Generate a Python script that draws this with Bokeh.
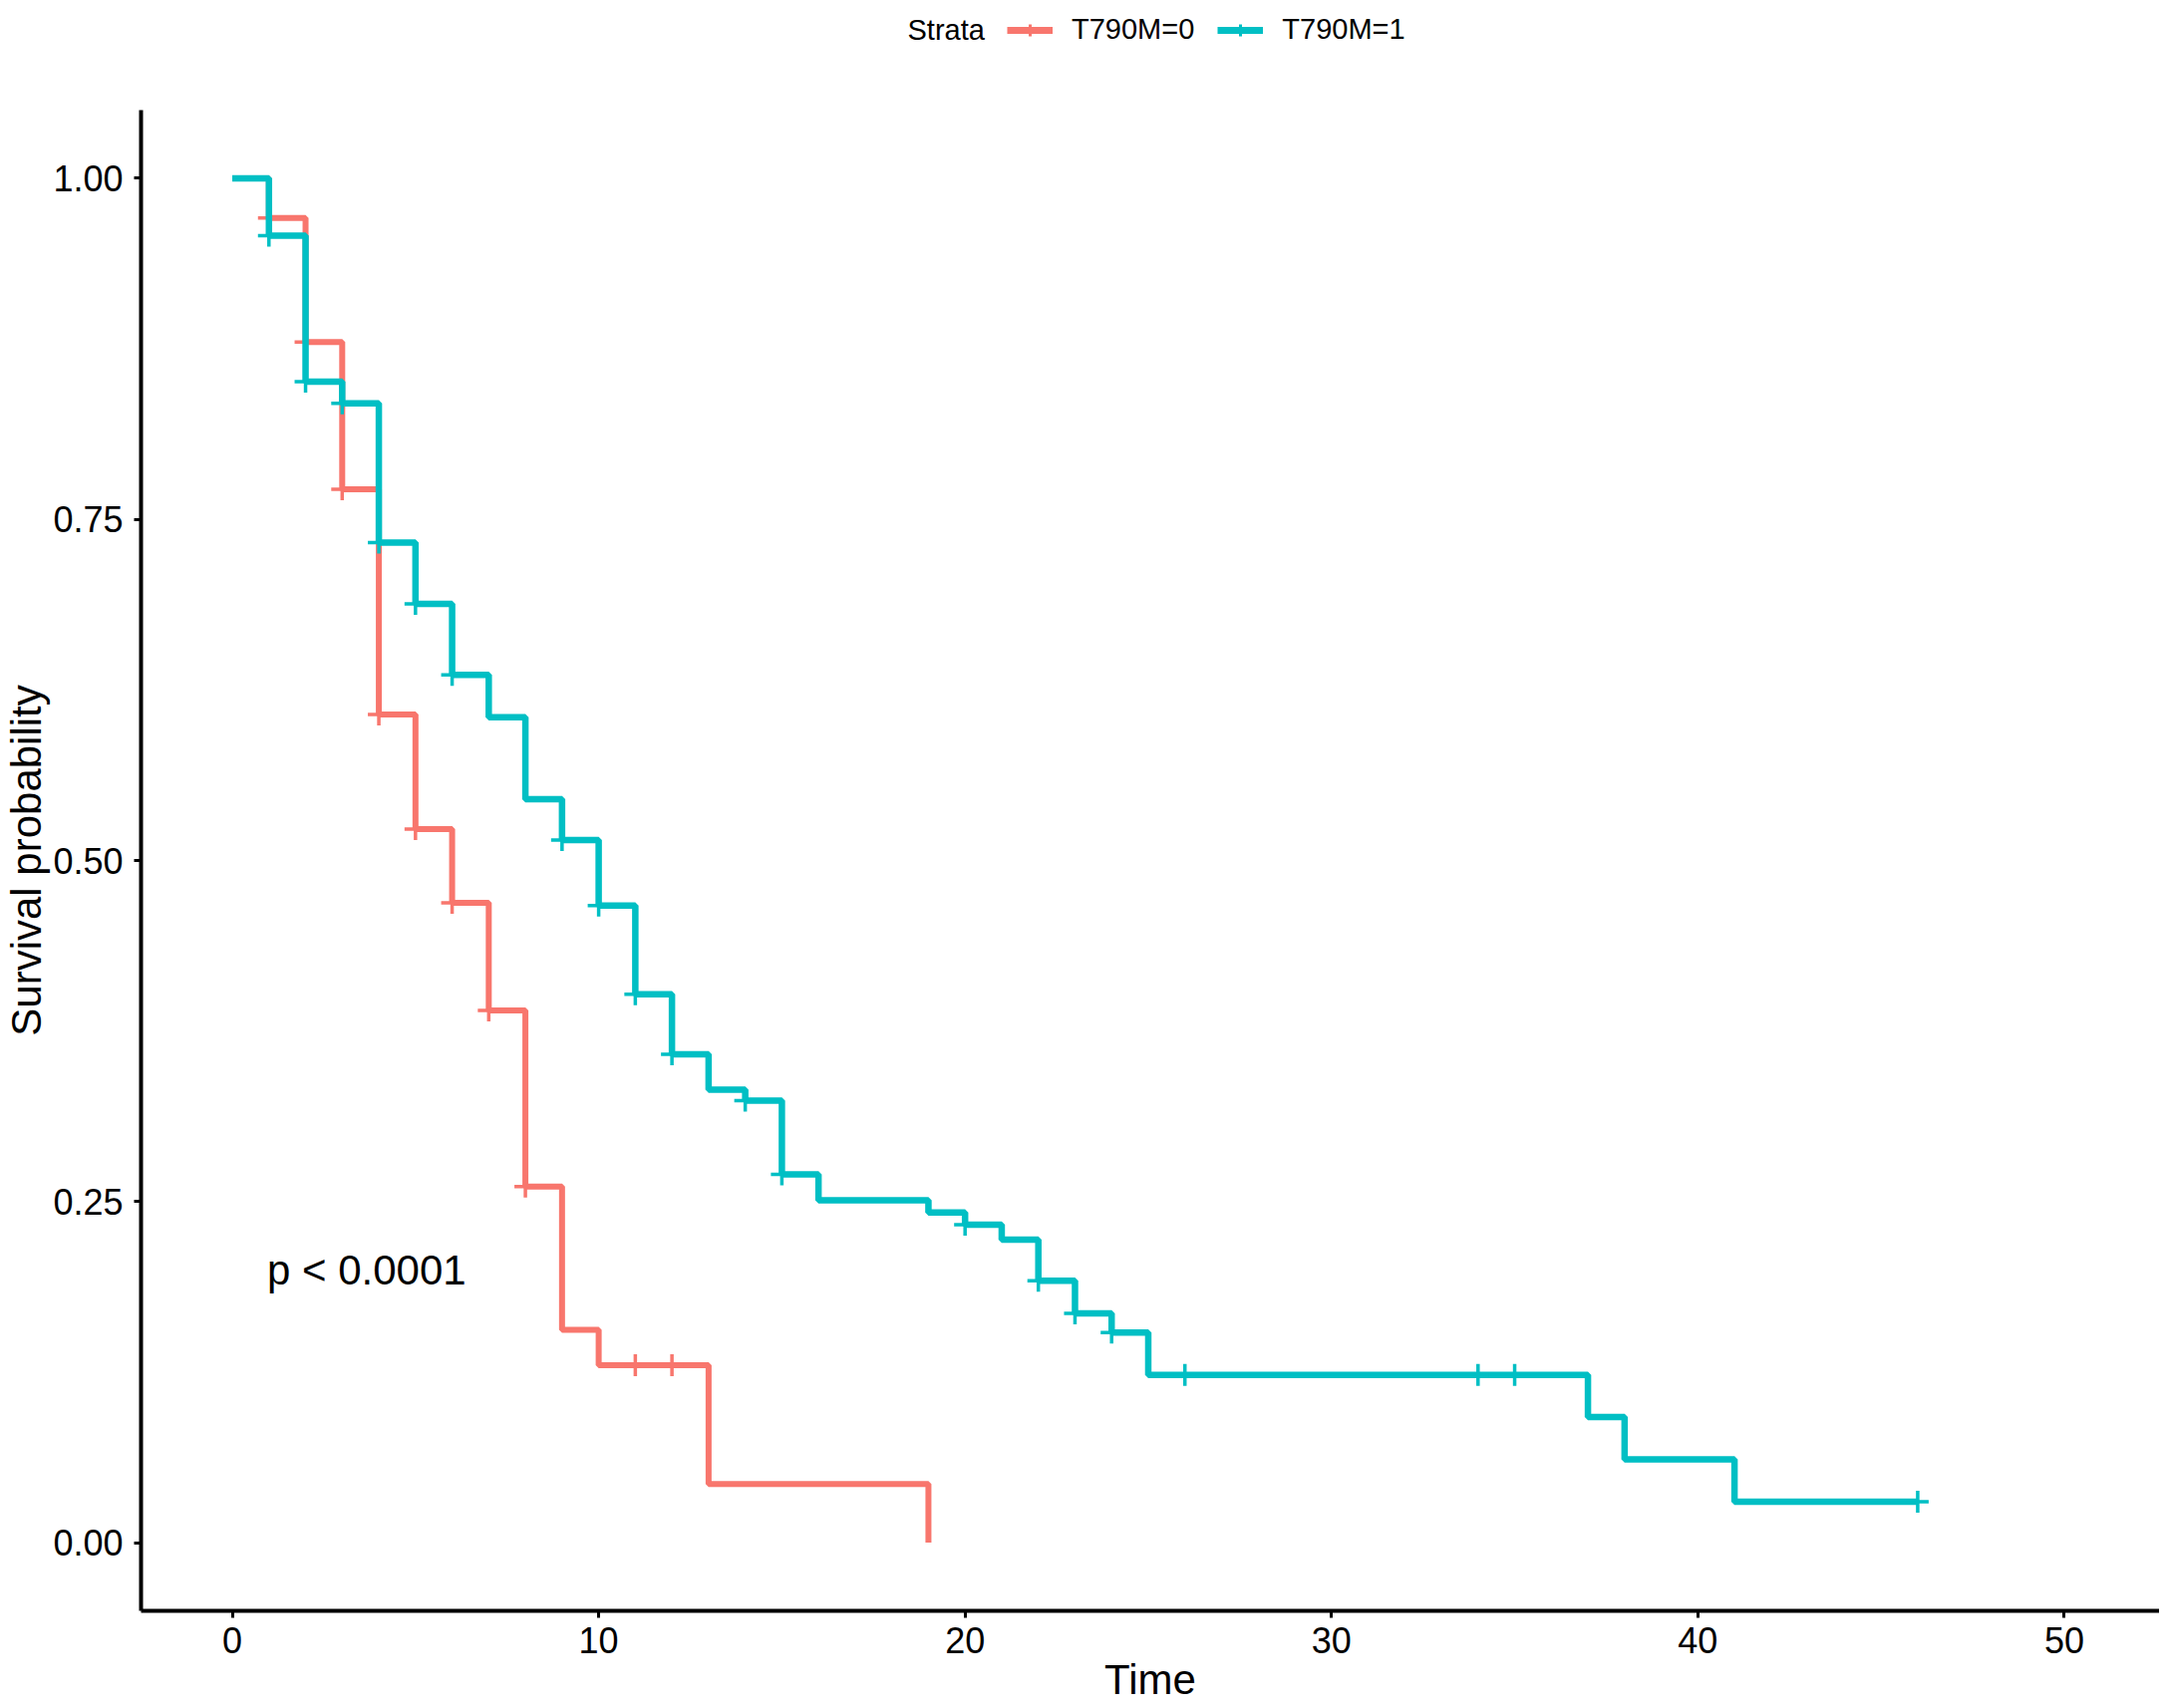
import numpy as np
from bokeh.plotting import figure
from bokeh.layouts import column
from bokeh.models import Range1d, Legend, LegendItem, FixedTicker, Label
from bokeh.core.properties import value
from bokeh.embed import file_html
from bokeh.resources import INLINE

FONT = "Liberation Sans"
RED = "#F8766D"
TEAL = "#00BFC4"

# ---- data ----
strata = ["T790M=0", "T790M=1"]
legend_title = "Strata"

time0 = [0, 1, 2, 3, 4, 5, 6, 7, 8, 9, 10, 13, 19]
surv0 = [1.0, 0.971, 0.880, 0.772, 0.607, 0.523, 0.469, 0.390, 0.261, 0.156, 0.130, 0.043, 0.0]
cens_time0 = [1, 2, 3, 4, 5, 6, 7, 8, 11, 12]

time1 = [0, 1, 2, 3, 4, 5, 6, 7, 8, 9, 10, 11, 12, 13, 14, 15, 16, 19, 20, 21, 22, 23, 24, 25, 37, 38, 41, 46]
surv1 = [1.0, 0.958, 0.851, 0.835, 0.733, 0.688, 0.636, 0.605, 0.545, 0.515, 0.467, 0.402, 0.358, 0.332,
         0.324, 0.270, 0.251, 0.242, 0.233, 0.222, 0.192, 0.168, 0.154, 0.123, 0.092, 0.061, 0.030, 0.030]
cens_time1 = [1, 2, 3, 4, 5, 6, 9, 10, 11, 12, 14, 15, 20, 22, 23, 24, 26, 34, 35, 46]

x_ticks = [0, 10, 20, 30, 40, 50]
y_ticks = [0.0, 0.25, 0.50, 0.75, 1.00]
y_tick_labels = ["0.00", "0.25", "0.50", "0.75", "1.00"]
pval_text = "p < 0.0001"
pval_pos = (0.95, 0.2)
x_title = "Time"
y_title = "Survival probability"


def step_value(times, survs, t):
    idx = np.searchsorted(np.asarray(times), t, side="right") - 1
    return float(np.asarray(survs)[idx])


cens_surv0 = [step_value(time0, surv0, t) for t in cens_time0]
cens_surv1 = [step_value(time1, surv1, t) for t in cens_time1]

W = 2166
TOP_H = 100
MAIN_H = 1611

# ---- legend strip on top (its renderers hold the same data, kept out of view) ----
top = figure(width=W, height=TOP_H, output_backend="svg", toolbar_location=None,
             x_range=Range1d(-1000, -999), y_range=Range1d(-1000, -999),
             x_axis_location=None, y_axis_location=None,
             min_border_left=0, min_border_right=0, min_border_top=0, min_border_bottom=0)
top.title.visible = False
top.xgrid.visible = False
top.ygrid.visible = False
top.outline_line_color = None
top.border_fill_color = "white"

k0l = top.step(time0, surv0, mode="after", line_color=RED, line_width=7)
k0c = top.scatter(cens_time0, cens_surv0, marker="cross", size=18, line_color=RED, line_width=3)
k1l = top.step(time1, surv1, mode="after", line_color=TEAL, line_width=7)
k1c = top.scatter(cens_time1, cens_surv1, marker="cross", size=18, line_color=TEAL, line_width=3)

legend = Legend(items=[LegendItem(label=strata[0], renderers=[k0l, k0c]),
                       LegendItem(label=strata[1], renderers=[k1l, k1c])],
                orientation="horizontal", location=(869, 54),
                glyph_width=46, glyph_height=30, label_standoff=19, spacing=23,
                padding=0, margin=0, label_text_font=FONT, label_text_font_size="29px",
                label_text_color="black", border_line_color=None, background_fill_alpha=0)
top.add_layout(legend, "center")
top.add_layout(Label(x=769, y=71, x_units="screen", y_units="screen", text=legend_title,
                     text_font=FONT, text_font_size="29px", text_baseline="middle",
                     text_color="black"))

# ---- main plot ----
p = figure(width=W, height=MAIN_H, output_backend="svg", toolbar_location=None,
           x_range=Range1d(-2.49, 52.6), y_range=Range1d(-0.05, 1.05),
           min_border_left=131, min_border_top=10, min_border_right=0, min_border_bottom=90)
p.title.visible = False
p.xgrid.visible = False
p.ygrid.visible = False
p.outline_line_color = None
p.background_fill_color = "white"
p.border_fill_color = "white"

p.step(time0, surv0, mode="after", line_color=RED, line_width=6)
p.scatter(cens_time0, cens_surv0, marker="cross", size=22, line_color=RED, line_width=3.5)
p.step(time1, surv1, mode="after", line_color=TEAL, line_width=6.5)
p.scatter(cens_time1, cens_surv1, marker="cross", size=22, line_color=TEAL, line_width=3.5)

p.text(x=[pval_pos[0]], y=[pval_pos[1]], text=[pval_text], text_font=value(FONT),
       text_font_size="42px", text_baseline="middle", text_align="left", text_color="black")

for ax in (p.xaxis[0], p.yaxis[0]):
    ax.axis_line_width = 4
    ax.axis_line_color = "black"
    ax.major_tick_line_width = 3
    ax.major_tick_line_color = "black"
    ax.major_tick_out = 7
    ax.major_tick_in = 0
    ax.minor_tick_line_color = None
    ax.major_label_text_font = FONT
    ax.major_label_text_font_size = "36px"
    ax.major_label_text_color = "black"
    ax.axis_label_text_font = FONT
    ax.axis_label_text_font_size = "42px"
    ax.axis_label_text_font_style = "normal"
    ax.axis_label_text_color = "black"

p.xaxis.ticker = FixedTicker(ticks=x_ticks)
p.yaxis.ticker = FixedTicker(ticks=y_ticks)
p.yaxis.major_label_overrides = {t: s for t, s in zip(y_ticks, y_tick_labels)}
p.xaxis.axis_label = x_title
p.yaxis.axis_label = y_title
p.xaxis.major_label_standoff = 9
p.yaxis.major_label_standoff = 11
p.xaxis.axis_label_standoff = 0
p.yaxis.axis_label_standoff = 0

layout = column(top, p, spacing=0)
open("out.html", "w").write(file_html(layout, INLINE))
